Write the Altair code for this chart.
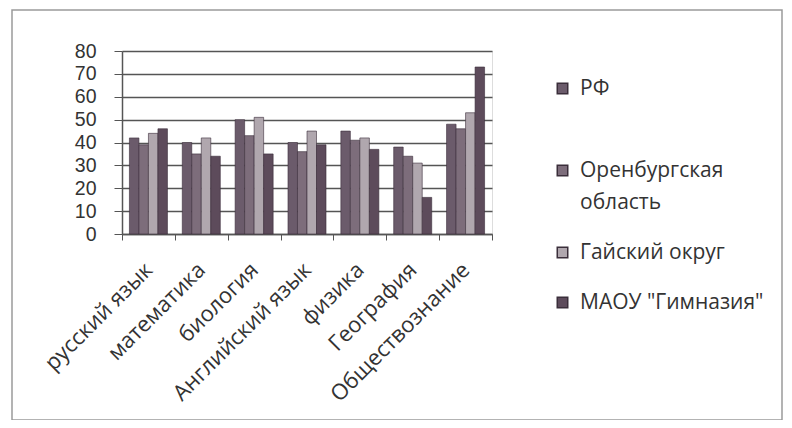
import altair as alt
import pandas as pd

subjects = ["русский язык", "математика", "биология", "Английский язык",
            "физика", "География", "Обществознание"]
series = ["РФ", "Оренбургская\nобласть", "Гайский округ", "МАОУ \"Гимназия\""]
rf = [42, 40, 50, 40, 45, 38, 48]
orb = [39, 35, 43, 36, 41, 34, 46]
gai = [44, 42, 51, 45, 42, 31, 53]
maou = [46, 34, 35, 39, 37, 16, 73]
colors = ["#6b5b6b", "#7d6d7b", "#b0a7ae", "#5d4b5b"]

rows = []
for vals, s in zip([rf, orb, gai, maou], series):
    for subj, v in zip(subjects, vals):
        rows.append({"subject": subj, "series": s, "value": v})
df = pd.DataFrame(rows)

W, H = 370, 183
font = "Open Sans"

frame = alt.Chart(pd.DataFrame({"a": [0]})).mark_rect(
    fill=None, stroke="#9a9a9a", strokeWidth=1.5
).encode(x=alt.value(-110), x2=alt.value(660), y=alt.value(-41), y2=alt.value(369))

bars = alt.Chart(df).mark_bar(stroke="#3a2e3a", strokeWidth=0.6).encode(
    x=alt.X("subject:N", sort=subjects, title=None,
            scale=alt.Scale(paddingInner=0, paddingOuter=0),
            axis=alt.Axis(labelAngle=-45, labelAlign="right", labelBaseline="middle",
                          labelFontSize=22, labelFont=font, labelColor="#333",
                          tickBand="extent", labelPadding=26, labelLimit=400,
                          tickSize=6, tickColor="#555", domainColor="#555",
                          domainWidth=1.5, grid=False, labelOverlap=False)),
    xOffset=alt.XOffset("series:N", sort=series,
                        scale=alt.Scale(paddingInner=0, paddingOuter=0.78)),
    y=alt.Y("value:Q", title=None,
            scale=alt.Scale(domain=[0, 80]),
            axis=alt.Axis(values=list(range(0, 81, 10)), labelFontSize=19.5,
                          labelFont="Liberation Sans", labelColor="#333", tickSize=8,
                          tickColor="#555", domainColor="#555", domainWidth=1.5,
                          labelPadding=18, gridColor="#555", gridWidth=1.5,
                          labelLineHeight=19, labelOverlap=False)),
    color=alt.Color("series:N", sort=series,
                    scale=alt.Scale(domain=series, range=colors),
                    legend=alt.Legend(title=None, orient="none", legendX=430,
                                      legendY=27, labelFontSize=21, labelFont=font,
                                      labelColor="#333", symbolType="square",
                                      symbolSize=110, rowPadding=28, labelOffset=7,
                                      labelLimit=300,
                                      labelExpr="datum.label == 'РФ' ? ['РФ', ''] : split(datum.label, '\\n')")),
)

chart = alt.layer(frame, bars).properties(
    width=W, height=H,
    autosize=alt.AutoSizeParams(type="none"),
    padding={"left": 114, "top": 43, "right": 292, "bottom": 186},
).configure_view(stroke=None).configure(
    background="white", style={"guide-label": {"lineHeight": 32}}
)

chart.save("out.html", embed_options={"renderer": "svg", "actions": False})
